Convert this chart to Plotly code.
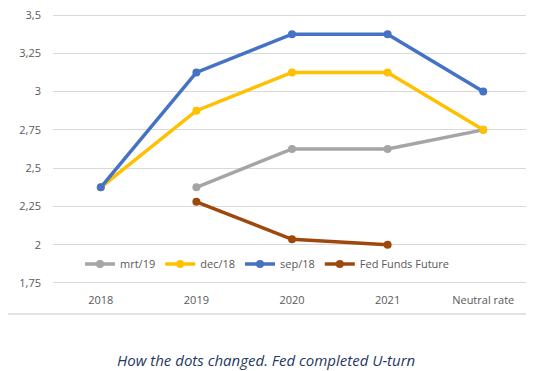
import plotly.graph_objects as go

categories = ["2018", "2019", "2020", "2021", "Neutral rate"]
mrt19 = [None, 2.375, 2.625, 2.625, 2.75]
dec18 = [2.375, 2.875, 3.125, 3.125, 2.75]
sep18 = [2.375, 3.125, 3.375, 3.375, 3.0]
fed_funds_future = [None, 2.28, 2.035, 2.0, None]

y_ticks = [1.75, 2, 2.25, 2.5, 2.75, 3, 3.25, 3.5]
y_tick_labels = ["1,75", "2", "2,25", "2,5", "2,75", "3", "3,25", "3,5"]

series = [
    ("mrt/19", mrt19, "#A5A5A5"),
    ("dec/18", dec18, "#FFC000"),
    ("sep/18", sep18, "#4472C4"),
    ("Fed Funds Future", fed_funds_future, "#9E480E"),
]

fig = go.Figure()
for name, vals, color in series:
    fig.add_trace(go.Scatter(
        x=categories, y=vals, name=name, mode="lines+markers",
        line=dict(color=color, width=3.5),
        marker=dict(color=color, size=8),
        connectgaps=False,
    ))

# page has an 8px body margin; figure coords = page coords - 8
W, H = 526, 363
ml, mt = 45, 5
plot_right, plot_bottom = 523, 277
mr, mb = W - plot_right, H - plot_bottom
pw = W - ml - mr
ph = H - mt - mb
pad = 0.0131  # small padding so the outer gridlines are not clipped

fig.update_layout(
    width=W, height=H,
    margin=dict(l=ml, r=mr, t=mt, b=mb),
    paper_bgcolor="white", plot_bgcolor="white",
    font=dict(family="Open Sans, sans-serif", size=11, color="#595959"),
    showlegend=True,
    legend=dict(
        orientation="h", x=(72 - ml) / pw, y=(plot_bottom - 256) / ph,
        xanchor="left", yanchor="middle",
        font=dict(size=11, color="#595959"), bgcolor="rgba(0,0,0,0)",
        itemwidth=30, tracegroupgap=0,
    ),
    xaxis=dict(
        type="category", range=[-0.5, 4.5], showgrid=False, zeroline=False,
        showline=False, ticks="", tickfont=dict(size=11, color="#595959"),
        ticklabelstandoff=7, automargin=False,
    ),
    yaxis=dict(
        range=[1.75 - pad, 3.5 + pad], tickvals=y_ticks, ticktext=y_tick_labels,
        showgrid=True, gridcolor="#D9D9D9", gridwidth=1.3, zeroline=False,
        showline=False, ticks="", tickfont=dict(size=11, color="#595959"),
        ticklabelstandoff=11, ticklabeloverflow="allow", automargin=False,
    ),
    annotations=[dict(
        text="<i>How the dots changed. Fed completed U-turn</i>",
        xref="paper", yref="paper", x=(258 - ml) / pw, y=-(352 - plot_bottom) / ph,
        xanchor="center", yanchor="middle", showarrow=False,
        font=dict(family="Open Sans, sans-serif", size=15, color="#1F3864"),
    )],
    shapes=[
        dict(type="line", xref="paper", yref="paper",
             x0=-ml / pw, x1=(524 - ml) / pw, y0=-(306 - plot_bottom) / ph, y1=-(306 - plot_bottom) / ph,
             line=dict(color="#D9D9D9", width=1.3)),
        dict(type="line", xref="paper", yref="paper",
             x0=(524 - ml) / pw, x1=(524 - ml) / pw, y0=-(306 - plot_bottom) / ph, y1=1 + mt / ph,
             line=dict(color="#D9D9D9", width=1.3)),
    ],
)

fig.write_html("out.html")
